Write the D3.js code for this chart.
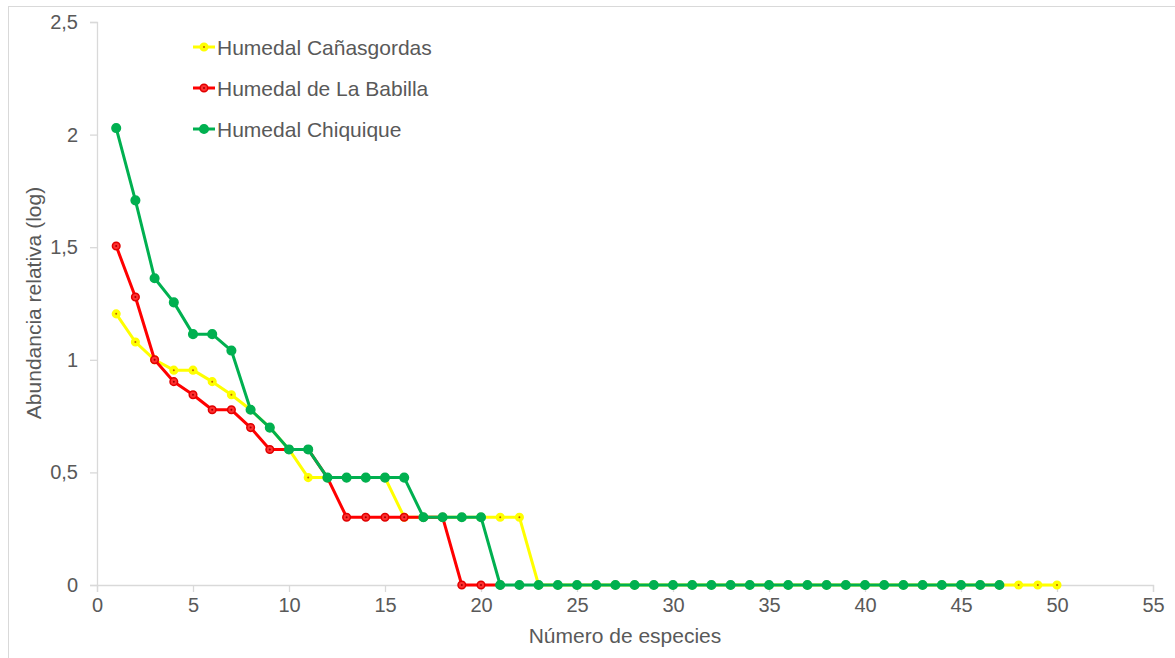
<!DOCTYPE html>
<html><head><meta charset="utf-8">
<script src="https://cdn.jsdelivr.net/npm/d3@7"></script>
<style>body{margin:0;background:#fff}text{font-family:"Liberation Sans",Arial,sans-serif}</style>
</head><body><svg id="c" width="1175" height="658"></svg>
<script>
const seriesNames = ["Humedal Cañasgordas","Humedal de La Babilla","Humedal Chiquique"];
const seriesColors = ["#FFFF00","#FF0000","#00B050"];
const canasgordas = [1.204,1.079,1.0,0.954,0.954,0.903,0.845,0.778,0.699,0.602,0.477,0.477,0.477,0.477,0.477,0.301,0.301,0.301,0.301,0.301,0.301,0.301,
 0,0,0,0,0,0,0,0,0,0,0,0,0,0,0,0,0,0,0,0,0,0,0,0,0,0,0,0];
const babilla = [1.505,1.279,1.0,0.903,0.845,0.778,0.778,0.699,0.602,0.602,0.602,0.477,0.301,0.301,0.301,0.301,0.301,0.301,0,0,0];
const chiquique = [2.029,1.708,1.362,1.255,1.114,1.114,1.041,0.778,0.699,0.602,0.602,0.477,0.477,0.477,0.477,0.477,0.301,0.301,0.301,0.301,
 0,0,0,0,0,0,0,0,0,0,0,0,0,0,0,0,0,0,0,0,0,0,0,0,0,0,0];
const xTicks = [0,5,10,15,20,25,30,35,40,45,50,55];
const yTicks = [0,0.5,1,1.5,2,2.5];
const yTickLabels = ["0","0,5","1","1,5","2","2,5"];
const xTitle = "Número de especies";
const yTitle = "Abundancia relativa (log)";

const svg = d3.select("#c");
const x = d3.scaleLinear().domain([0,55]).range([97,1153]);
const y = d3.scaleLinear().domain([0,2.5]).range([585,22]);
const grey = "#D9D9D9", txt = "#595959";

// outer border
svg.append("line").attr("x1",8).attr("x2",1175).attr("y1",6.5).attr("y2",6.5).attr("stroke",grey);
svg.append("line").attr("x1",8.5).attr("x2",8.5).attr("y1",6).attr("y2",658).attr("stroke",grey);

const xAxis = svg.append("g").attr("transform","translate(0,585)")
  .call(d3.axisBottom(x).tickValues(xTicks).tickSize(7).tickPadding(6).tickFormat(d3.format("d")));
const yAxis = svg.append("g").attr("transform","translate(97,0)")
  .call(d3.axisLeft(y).tickValues(yTicks).tickSize(7).tickPadding(12).tickFormat((d,i)=>yTickLabels[i]));
[xAxis,yAxis].forEach(g=>{
  g.select(".domain").attr("stroke",grey).attr("stroke-width",1.3);
  g.selectAll(".tick line").attr("stroke",grey).attr("stroke-width",1.3);
  g.selectAll(".tick text").attr("fill",txt).style("font-size","20px").style("font-family","'Liberation Sans',Arial,sans-serif");
});

svg.append("text").attr("x",(97+1153)/2).attr("y",643).attr("text-anchor","middle")
  .attr("fill",txt).style("font-size","21px").text(xTitle);
svg.append("text").attr("transform","translate(41,303) rotate(-90)").attr("text-anchor","middle")
  .attr("fill",txt).style("font-size","21px").text(yTitle);

const allData = [canasgordas,babilla,chiquique];
const line = d3.line().x((d,i)=>x(i+1)).y(d=>y(d));
allData.forEach((vals,k)=>{
  const col = seriesColors[k];
  svg.append("path").datum(vals).attr("d",line).attr("fill","none")
    .attr("stroke",col).attr("stroke-width",3).attr("stroke-linejoin","round");
  const g = svg.append("g");
  g.selectAll("circle").data(vals).join("circle")
    .attr("cx",(d,i)=>x(i+1)).attr("cy",d=>y(d)).attr("r",k===2?4.3:3.8)
    .attr("fill",k===0?"#FFFF00":(k===1?"#FF3030":col))
    .attr("stroke",k===1?"#E00000":col).attr("stroke-width",1.5);
  if(k<2){
    g.selectAll("circle.c").data(vals).join("circle").attr("class","c")
      .attr("cx",(d,i)=>x(i+1)).attr("cy",d=>y(d)).attr("r",1)
      .attr("fill",k===0?"#C06000":"#A00000");
  }
});

// legend
const legY = [47,88,129];
seriesNames.forEach((n,k)=>{
  const g = svg.append("g");
  g.append("line").attr("x1",193).attr("x2",215).attr("y1",legY[k]).attr("y2",legY[k])
    .attr("stroke",seriesColors[k]).attr("stroke-width",3);
  g.append("circle").attr("cx",204).attr("cy",legY[k]).attr("r",k===2?4.3:3.8)
    .attr("fill",k===1?"#FF3030":seriesColors[k]).attr("stroke",k===1?"#E00000":seriesColors[k]).attr("stroke-width",1.5);
  if(k<2) g.append("circle").attr("cx",204).attr("cy",legY[k]).attr("r",1).attr("fill",k===0?"#C06000":"#A00000");
  g.append("text").attr("x",217).attr("y",legY[k]+7.5).attr("fill",txt).style("font-size","21px").text(n);
});
</script></body></html>
